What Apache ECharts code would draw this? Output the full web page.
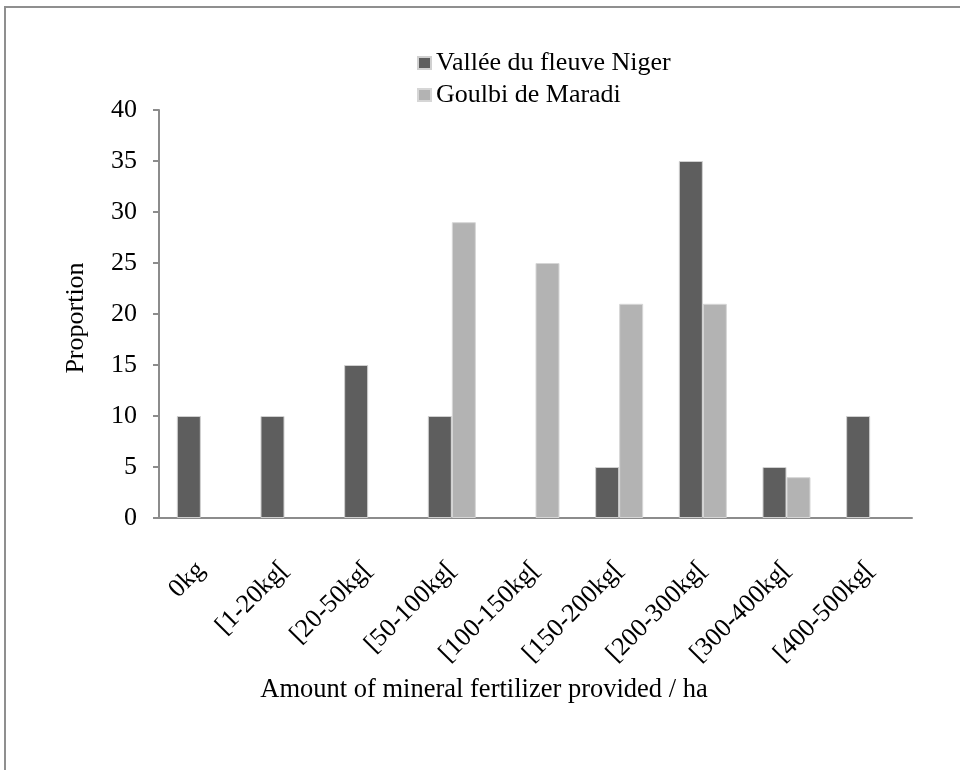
<!DOCTYPE html>
<html>
<head>
<meta charset="utf-8">
<script src="https://cdn.jsdelivr.net/npm/echarts@6/dist/echarts.min.js"></script>
<style>html,body{margin:0;padding:0;background:#fff}#c{width:960px;height:770px}</style>
</head>
<body>
<div id="c"></div>
<script>
const categories = ['0kg','[1-20kg[','[20-50kg[','[50-100kg[','[100-150kg[','[150-200kg[','[200-300kg[','[300-400kg[','[400-500kg['];
const seriesNames = ['Vallée du fleuve Niger','Goulbi de Maradi'];
const nigerValues = [10, 10, 15, 10, null, 5, 35, 5, 10];
const maradiValues = [null, null, null, 29, 25, 21, 21, 4, null];
const yTicks = {min: 0, max: 40, interval: 5};

const font = '"Liberation Serif", "Times New Roman", serif';
const chart = echarts.init(document.getElementById('c'));
chart.setOption({
  animation: false,
  backgroundColor: '#fff',
  graphic: [{
    type: 'rect', shape: {x: 5, y: 7, width: 1000, height: 800},
    style: {fill: 'none', stroke: '#8f8f8f', lineWidth: 2}, silent: true, z: -1
  }],
  legend: {
    orient: 'vertical', left: 412, top: 45, itemGap: 6,
    itemWidth: 13, itemHeight: 12, icon: 'rect',
    textStyle: {fontFamily: font, fontSize: 26, color: '#000'},
    data: seriesNames
  },
  grid: {left: 159, right: 48, top: 110, bottom: 252},
  xAxis: {
    type: 'category', data: categories,
    name: 'Amount of mineral fertilizer provided / ha',
    nameLocation: 'middle', nameGap: 159,
    nameTextStyle: {fontFamily: font, fontSize: 26.5, color: '#000', padding: [0, 103, 0, 0]},
    axisLine: {lineStyle: {color: '#8c8c8c', width: 2}},
    axisTick: {show: false},
    axisLabel: {rotate: 45, margin: 48, interval: 0, fontFamily: font, fontSize: 26, color: '#000'}
  },
  yAxis: {
    type: 'value', min: yTicks.min, max: yTicks.max, interval: yTicks.interval,
    name: 'Proportion', nameLocation: 'middle', nameGap: 70, nameRotate: 90,
    nameTextStyle: {fontFamily: font, fontSize: 26, color: '#000', padding: [0, 8, 0, 0]},
    axisLine: {show: true, lineStyle: {color: '#8c8c8c', width: 2}},
    axisTick: {show: true, length: 6, lineStyle: {color: '#8c8c8c', width: 2}},
    splitLine: {show: false},
    axisLabel: {margin: 22, fontFamily: font, fontSize: 26, color: '#000'}
  },
  series: [
    {name: seriesNames[0], type: 'bar', data: nigerValues, barGap: '0%', barCategoryGap: '42.6%',
     itemStyle: {color: '#5e5e5e', borderColor: '#d0d0d0', borderWidth: 1}},
    {name: seriesNames[1], type: 'bar', data: maradiValues, barGap: '0%', barCategoryGap: '42.6%',
     itemStyle: {color: '#b3b3b3', borderColor: '#d6d6d6', borderWidth: 1}}
  ]
});
</script>
</body>
</html>
